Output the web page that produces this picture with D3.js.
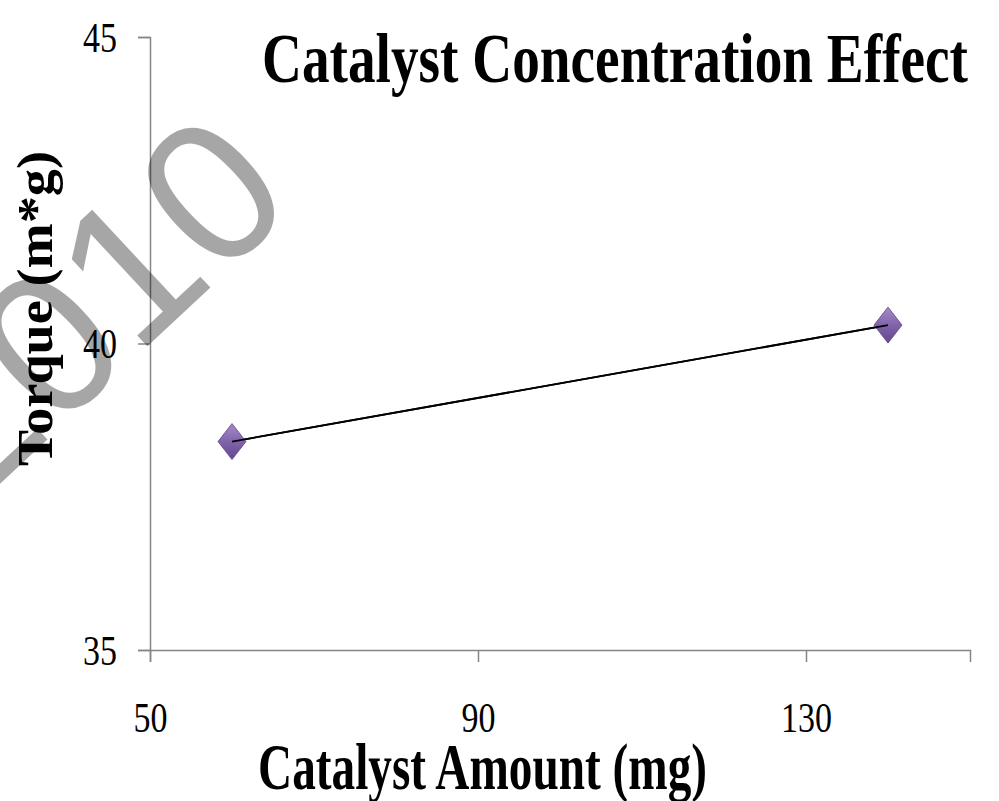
<!DOCTYPE html>
<html>
<head>
<meta charset="utf-8">
<script src="https://cdn.jsdelivr.net/npm/d3@7/dist/d3.min.js"></script>
<style>
  html, body { margin: 0; padding: 0; background: #fff; }
  svg { display: block; }
</style>
</head>
<body>
<svg id="chart" width="999" height="801"></svg>
<script>
// Catalyst amount (mg) vs. measured torque (m*g)
const catalystAmount = [60, 140];
const torque = [38.4, 40.3];
const xTicks = [50, 90, 130];
const yTicks = [35, 40, 45];
const chartTitle = "Catalyst Concentration Effect";
const xTitle = "Catalyst Amount (mg)";
const yTitle = "Torque (m*g)";
const watermark = "2010";

const svg = d3.select("#chart");
const margin = { left: 150, right: 29, top: 37, bottom: 151 };
const W = 999, H = 801;

const x = d3.scaleLinear().domain([50, 150]).range([margin.left, W - margin.right]);
const y = d3.scaleLinear().domain([35, 45]).range([H - margin.bottom, margin.top]);

const axisColor = "#868686";
const serif = "'Liberation Serif', 'Times New Roman', serif";
const tickFont = 42;
const digitWidth = 17;

// marker gradient
const defs = svg.append("defs");
const grad = defs.append("linearGradient").attr("id", "mk").attr("x1", 0).attr("y1", 0).attr("x2", 0).attr("y2", 1);
grad.append("stop").attr("offset", "0%").attr("stop-color", "#a68ccb");
grad.append("stop").attr("offset", "50%").attr("stop-color", "#8064a9");
grad.append("stop").attr("offset", "100%").attr("stop-color", "#634690");

// Y axis
const yAxis = d3.axisLeft(y).tickValues(yTicks).tickSize(12).tickPadding(21).tickFormat(d3.format("d"));
const gy = svg.append("g").attr("transform", `translate(${margin.left},0)`).call(yAxis);
gy.select(".domain").attr("stroke", axisColor).attr("stroke-width", 1.5);
gy.selectAll(".tick line").attr("stroke", axisColor).attr("stroke-width", 1.5);
gy.selectAll(".tick text")
  .attr("font-family", serif).attr("font-size", tickFont).attr("fill", "#000")
  .attr("dy", "0.34em")
  .attr("textLength", d => String(d).length * digitWidth)
  .attr("lengthAdjust", "spacingAndGlyphs");

// X axis
const xAxis = d3.axisBottom(x).tickValues(xTicks).tickSize(12).tickPadding(40).tickFormat(d3.format("d"));
const gx = svg.append("g").attr("transform", `translate(0,${H - margin.bottom})`).call(xAxis);
gx.select(".domain").attr("stroke", axisColor).attr("stroke-width", 1.5);
gx.selectAll(".tick line").attr("stroke", axisColor).attr("stroke-width", 1.5);
gx.selectAll(".tick text")
  .attr("font-family", serif).attr("font-size", tickFont).attr("fill", "#000")
  .attr("textLength", d => String(d).length * digitWidth)
  .attr("lengthAdjust", "spacingAndGlyphs");

// connecting line
const pts = catalystAmount.map((c, i) => [c, torque[i]]);
const lineGen = d3.line().x(d => x(d[0])).y(d => y(d[1]));
svg.append("path")
  .datum(pts)
  .attr("fill", "none")
  .attr("stroke", "#000")
  .attr("stroke-width", 1.8)
  .attr("d", lineGen);

// diamond markers
const hw = 14, hh = 18;
svg.append("g").selectAll("path.mk")
  .data(pts).join("path")
  .attr("class", "mk")
  .attr("d", d => {
    const cx = x(d[0]), cy = y(d[1]);
    return `M${cx},${cy - hh}L${cx + hw},${cy}L${cx},${cy + hh}L${cx - hw},${cy}Z`;
  })
  .attr("fill", "url(#mk)")
  .attr("stroke", "#5e4488")
  .attr("stroke-width", 0.8);

// line drawn again over the markers' centres
svg.append("path")
  .datum(pts)
  .attr("fill", "none")
  .attr("stroke", "#000")
  .attr("stroke-width", 1.8)
  .attr("d", lineGen);

// watermark
svg.append("text")
  .attr("transform", "translate(299,205) rotate(-43)")
  .attr("text-anchor", "end")
  .attr("font-family", "'Liberation Sans', Arial, sans-serif")
  .attr("font-size", 200)
  .attr("fill", "#000")
  .attr("fill-opacity", 0.35)
  .text(watermark);

// titles
svg.append("text")
  .attr("x", 262).attr("y", 82)
  .attr("font-family", serif).attr("font-weight", "bold").attr("font-size", 70)
  .attr("textLength", 706).attr("lengthAdjust", "spacingAndGlyphs")
  .text(chartTitle);

svg.append("text")
  .attr("x", 258).attr("y", 789)
  .attr("font-family", serif).attr("font-weight", "bold").attr("font-size", 66)
  .attr("textLength", 449).attr("lengthAdjust", "spacingAndGlyphs")
  .text(xTitle);

svg.append("text")
  .attr("transform", "translate(52,466) rotate(-90)")
  .attr("font-family", serif).attr("font-weight", "bold").attr("font-size", 51)
  .attr("textLength", 315).attr("lengthAdjust", "spacingAndGlyphs")
  .text(yTitle);
</script>
</body>
</html>
